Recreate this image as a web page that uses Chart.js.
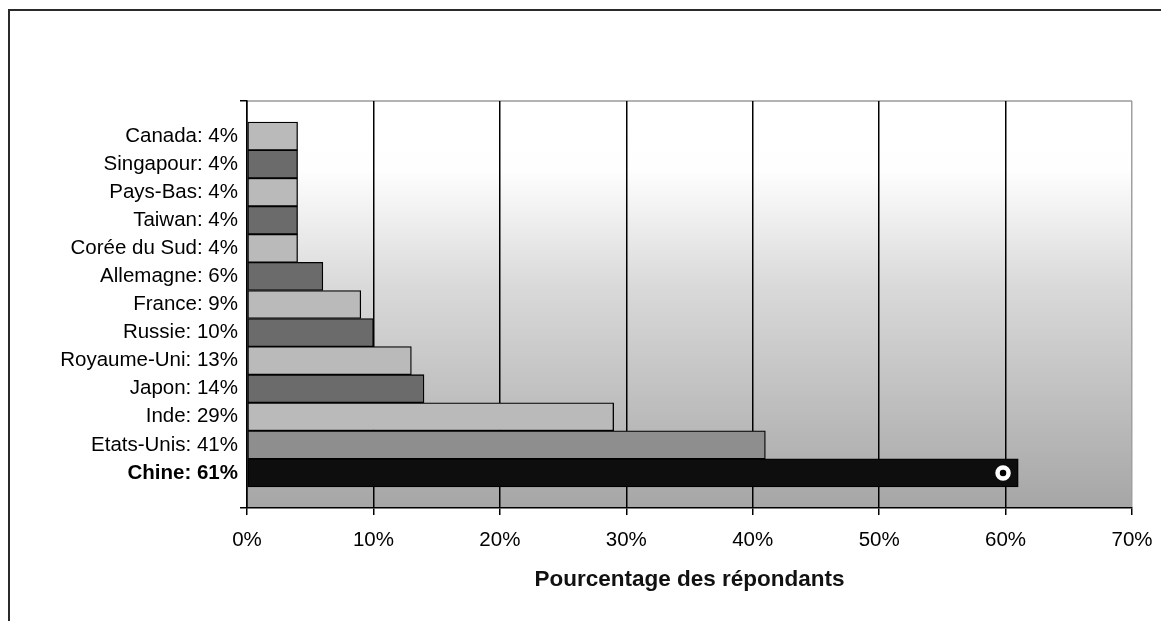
<!DOCTYPE html>
<html>
<head>
<meta charset="utf-8">
<script src="https://cdn.jsdelivr.net/npm/chart.js@4/dist/chart.umd.min.js"></script>
<style>
  body { margin: 0; background: #fff; overflow: hidden; }
  #frame { position: absolute; left: 8px; top: 9px; width: 1200px; height: 700px;
           border-left: 2px solid #2a2a2a; border-top: 2px solid #2a2a2a; }
  #wrap { position: absolute; left: 0; top: 0; width: 1161px; height: 621px; }
</style>
</head>
<body>
<div id="frame"></div>
<div id="wrap"><canvas id="bar-chart"></canvas></div>
<script>
// top to bottom, as in the picture
const countries = ["Canada", "Singapour", "Pays-Bas", "Taiwan", "Corée du Sud", "Allemagne",
  "France", "Russie", "Royaume-Uni", "Japon", "Inde", "Etats-Unis", "Chine"];
const percents = [4, 4, 4, 4, 4, 6, 9, 10, 13, 14, 29, 41, 61];
const xTickValues = [0, 10, 20, 30, 40, 50, 60, 70];
const marker = [{ x: 59.8, y: 12 }];

const labels = countries.map((c, i) => c + ": " + percents[i] + "%");
const barColors = ["#bababa", "#6b6b6b", "#bababa", "#6b6b6b", "#bababa", "#6b6b6b",
  "#bababa", "#6b6b6b", "#bababa", "#6b6b6b", "#bababa", "#8e8e8e", "#0e0e0e"];

const plotBg = {
  id: "plotBg",
  beforeDraw(chart) {
    const { ctx, chartArea: a } = chart;
    const g = ctx.createLinearGradient(0, a.top, 0, a.bottom);
    g.addColorStop(0, "#ffffff");
    g.addColorStop(0.17, "#fefefe");
    g.addColorStop(0.45, "#dadada");
    g.addColorStop(1, "#a6a6a6");
    ctx.save();
    ctx.fillStyle = g;
    ctx.fillRect(a.left, a.top, a.right - a.left, a.bottom - a.top);
    ctx.strokeStyle = "#9a9a9a";
    ctx.lineWidth = 1.5;
    ctx.beginPath();
    ctx.moveTo(a.left, a.top);
    ctx.lineTo(a.right, a.top);
    ctx.stroke();
    ctx.restore();
  }
};

new Chart(document.getElementById("bar-chart"), {
  type: "bar",
  data: {
    datasets: [
      {
        type: "scatter",
        data: marker,
        pointRadius: 5.5,
        pointBorderWidth: 4.5,
        pointBackgroundColor: "#000",
        pointBorderColor: "#fff",
        order: 0
      },
      {
        data: percents.map((v, i) => ({ x: v, y: i })),
        backgroundColor: barColors,
        borderColor: "#000",
        borderWidth: 1.3,
        borderSkipped: false,
        barPercentage: 1,
        categoryPercentage: 1,
        order: 1
      }
    ]
  },
  options: {
    indexAxis: "y",
    responsive: true,
    maintainAspectRatio: false,
    animation: false,
    layout: { padding: { top: 101, right: 29, left: 0, bottom: 0 } },
    plugins: { legend: { display: false }, tooltip: { enabled: false } },
    scales: {
      x: {
        type: "linear",
        min: 0,
        max: 70,
        afterBuildTicks: (s) => { s.ticks = xTickValues.map((v) => ({ value: v })); },
        afterFit: (s) => { s.height = 113; s.paddingRight = 0; s.paddingLeft = 0; },
        grid: {
          color: (c) => (c.tick && c.tick.value === 70 ? "#a0a0a0" : "#000"),
          tickColor: "#000",
          lineWidth: 1.5,
          tickLength: 7
        },
        border: { color: "#000", width: 1.5 },
        ticks: {
          color: "#000",
          padding: 13,
          font: { family: "Liberation Sans, Arial", size: 20.5 },
          callback: (v) => v + "%"
        },
        title: {
          display: true,
          text: "Pourcentage des répondants",
          color: "#111",
          font: { family: "Liberation Sans, Arial", size: 22.5, weight: "bold" },
          padding: { top: 4, bottom: 28 }
        }
      },
      y: {
        type: "linear",
        reverse: true,
        offset: false,
        min: -1.25,
        max: 13.25,
        afterFit: (s) => { s.width = 247; },
        grid: {
          offset: false,
          drawOnChartArea: false,
          tickLength: 7,
          lineWidth: 1.5,
          color: (c) => (c.tick && (c.tick.value === -1.25 || c.tick.value === 13.25) ? "#000" : "rgba(0,0,0,0)")
        },
        border: { color: "#000", width: 1.5 },
        ticks: {
          stepSize: 1,
          autoSkip: false,
          padding: 2,
          color: "#000",
          font: (c) => ({
            family: "Liberation Sans, Arial",
            size: 20.5,
            weight: c.tick && c.tick.value === 12 ? "bold" : "normal"
          }),
          callback: (v) => (Number.isInteger(v) && labels[v] ? labels[v] : "")
        }
      }
    }
  },
  plugins: [plotBg]
});
</script>
</body>
</html>
